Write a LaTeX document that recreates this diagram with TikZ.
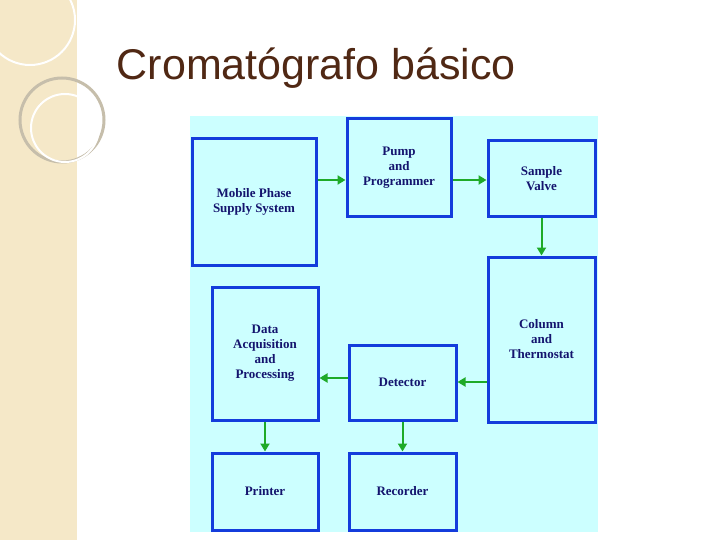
\documentclass[tikz,border=0pt]{standalone}
\usepackage{fontspec}
\setmainfont{Liberation Serif}
\newfontfamily\titlefont{Liberation Sans}
\usetikzlibrary{arrows.meta}
\definecolor{panel}{RGB}{204,255,255}
\definecolor{boxblue}{RGB}{20,60,220}
\definecolor{txtblue}{RGB}{20,20,110}
\definecolor{arrgreen}{RGB}{30,170,40}
\definecolor{strip}{RGB}{245,232,200}
\definecolor{titlebrown}{RGB}{80,40,20}
\begin{document}
\begin{tikzpicture}[x=1pt, y=-1pt, thick,
    blk/.style = {draw=boxblue, line width=3pt, align=center, font=\fontsize{13}{15}\selectfont\bfseries, text=txtblue},
    flow/.style = {-{Triangle[length=8pt,width=9pt]}, draw=arrgreen, line width=2pt}]
    % Background
    \useasboundingbox (0,0) rectangle (720,540);
    \fill[white] (0,0) rectangle (720,540);
    \fill[strip] (0,0) rectangle (78,540);
    \draw[white, line width=3pt] (78,0) -- (78,540);
    \draw[white, line width=2pt] (30,20) circle (45);
    \draw[strip!60!gray, line width=3pt] (62,120) circle (42);
    \draw[white, line width=2pt] (65,128) circle (34);
    \node[font=\titlefont\fontsize{43}{47}\selectfont, text=titlebrown, anchor=west] (title) at (113,68) {Cromatógrafo básico};
    \fill[panel] (190,116) rectangle (598,532);
    % Nodes
    \node[blk, minimum width=124pt, minimum height=126pt] (supply) at (254,202) {Mobile Phase\\Supply System};
    \node[blk, minimum width=104pt, minimum height=98pt] (pump) at (399,168) {Pump\\and\\Programmer};
    \node[blk, minimum width=107pt, minimum height=76pt] (valve) at (541.5,179) {Sample\\Valve};
    \node[blk, minimum width=107pt, minimum height=165pt] (column) at (541.5,339.5) {Column\\and\\Thermostat};
    \node[blk, minimum width=106pt, minimum height=133pt] (data) at (265,353.5) {Data\\Acquisition\\and\\Processing};
    \node[blk, minimum width=107pt, minimum height=75pt] (detector) at (402.5,382.5) {Detector};
    \node[blk, minimum width=106pt, minimum height=77pt] (printer) at (265,491.5) {Printer};
    \node[blk, minimum width=107pt, minimum height=77pt] (recorder) at (402.5,491.5) {Recorder};
    % Edges
    \draw[flow] (supply.east |- 0,180) -- (pump.west |- 0,180);
    \draw[flow] (pump.east |- 0,180) -- (valve.west |- 0,180);
    \draw[flow] (valve) -- (column);
    \draw[flow] (column.west |- 0,382) -- (detector.east |- 0,382);
    \draw[flow] (detector.west |- 0,378) -- (data.east |- 0,378);
    \draw[flow] (data) -- (printer);
    \draw[flow] (detector) -- (recorder);
\end{tikzpicture}
\end{document}
